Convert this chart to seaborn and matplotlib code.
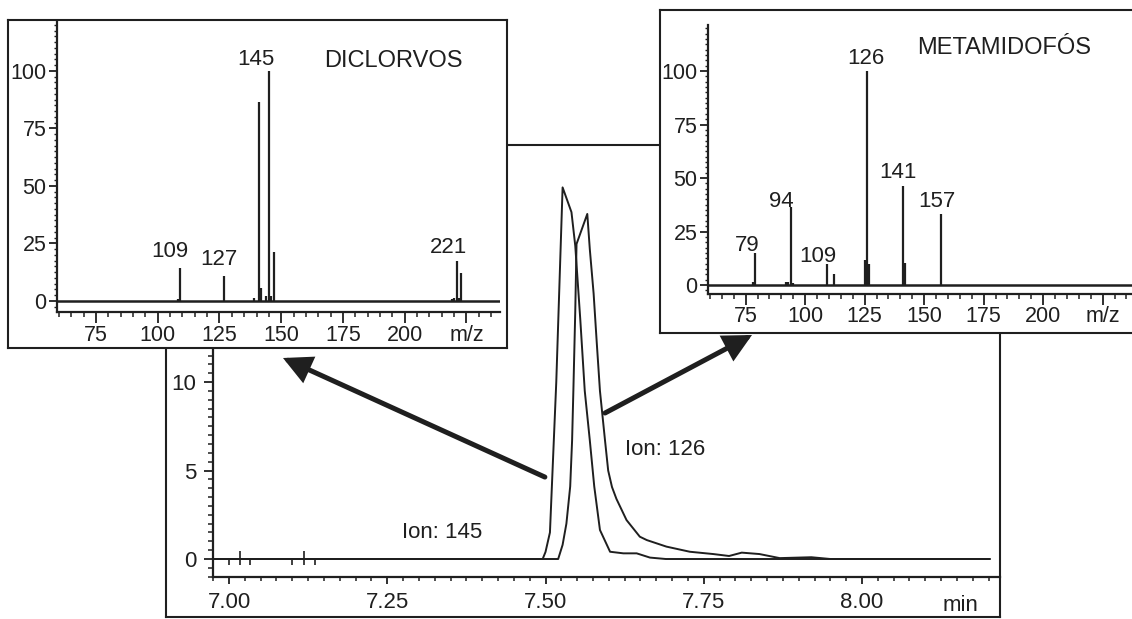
import matplotlib
matplotlib.use("Agg")
import matplotlib.pyplot as plt
import numpy as np
import pandas as pd
import seaborn as sns
from matplotlib.patches import ConnectionPatch
from matplotlib.ticker import FixedLocator, MultipleLocator

# ---------------- data ----------------
# extracted-ion chromatograms (retention time / min, abundance)
ion145_time = [6.975, 7.490, 7.4955, 7.500, 7.507, 7.517, 7.527, 7.541, 7.547, 7.555,
               7.562, 7.570, 7.577, 7.586, 7.602, 7.623, 7.644, 7.665, 7.690, 8.202]
ion145_abund = [0, 0, 0, 0.4, 1.5, 10.0, 21.0, 19.6, 17.7, 13.5,
                9.5, 6.7, 4.1, 1.64, 0.41, 0.32, 0.32, 0.08, 0, 0]

ion126_time = [6.975, 7.515, 7.520, 7.527, 7.533, 7.539, 7.542, 7.544, 7.547, 7.549,
               7.566, 7.570, 7.576, 7.581, 7.586, 7.594, 7.599, 7.605, 7.612, 7.628,
               7.649, 7.660, 7.691, 7.728, 7.765, 7.790, 7.810, 7.838, 7.870, 7.920,
               7.950, 8.202]
ion126_abund = [0, 0, 0, 0.8, 2.0, 4.1, 6.7, 9.5, 14.0, 17.8,
                19.5, 17.5, 15.0, 12.2, 9.5, 6.7, 5.0, 4.07, 3.4, 2.2,
                1.26, 1.07, 0.70, 0.41, 0.28, 0.17, 0.36, 0.28, 0.05, 0.1,
                0, 0]

# scan event marks on the baseline
event_long = [7.018, 7.118]
event_short = [7.000, 7.033, 7.099, 7.136]

time_ticks = [7.00, 7.25, 7.50, 7.75, 8.00]

# mass spectra (m/z, relative intensity %)
dicl_mz = [108, 109, 127, 139, 141, 142, 144, 145, 146, 147, 219, 220, 221, 222, 223]
dicl_int = [0.8, 14.3, 10.9, 1.5, 86.5, 5.5, 2.0, 100, 2.0, 21.2, 1.0, 1.5, 17.4, 1.5, 12.0]
dicl_labeled = [109, 127, 145, 221]

meta_mz = [78, 79, 92, 93, 94, 95, 109, 112, 125, 126, 127, 141, 142, 157]
meta_int = [1.5, 14.8, 1.5, 1.5, 36.6, 1.0, 9.8, 5.1, 11.7, 100, 9.8, 46.3, 10.3, 33.2]
meta_labeled = [79, 94, 109, 126, 141, 157]

mz_ticks = [75, 100, 125, 150, 175, 200, 225]
mz_tick_labels = ["75", "100", "125", "150", "175", "200", "m/z"]

# ---------------- style ----------------
sns.set_theme(style="white")
plt.rcParams["font.family"] = ["Liberation Sans", "DejaVu Sans"]
INK = "#1f1f1f"
W, H = 1132, 619

fig = plt.figure(figsize=(W / 100, H / 100), dpi=100)
fig.patch.set_facecolor("white")


def box(x0, y0, x1, y1):
    """Rectangle given by pixel edges (top-left origin) -> figure fraction."""
    return [x0 / W, 1 - y1 / H, (x1 - x0) / W, (y1 - y0) / H]


def framed(rect):
    fr = fig.add_axes(rect)
    fr.set_xticks([])
    fr.set_yticks([])
    fr.set_facecolor("white")
    for s in fr.spines.values():
        s.set_visible(True)
        s.set_linewidth(1.5)
        s.set_color(INK)
    return fr


def open_axes(a):
    a.set_facecolor("none")
    a.spines["top"].set_visible(False)
    a.spines["right"].set_visible(False)
    for s in ("left", "bottom"):
        a.spines[s].set_linewidth(1.6)
        a.spines[s].set_color(INK)


# ---------------- chromatogram ----------------
framed(box(166, 145, 1000, 617))
ax = fig.add_axes(box(213, 152, 1000, 577))
open_axes(ax)

chrom = pd.concat([
    pd.DataFrame({"time": ion145_time, "abund": ion145_abund, "ion": "145"}),
    pd.DataFrame({"time": ion126_time, "abund": ion126_abund, "ion": "126"}),
])
sns.lineplot(data=chrom, x="time", y="abund", hue="ion", palette=[INK, INK],
             estimator=None, sort=False, linewidth=1.4, legend=False, ax=ax)
ax.vlines(event_long, -0.35, 0.45, color=INK, linewidth=1.2)
ax.vlines(event_short, -0.35, 0.0, color=INK, linewidth=1.2)

ax.set_xlim(6.9747, 8.218)
ax.set_ylim(-1.017, 23.0)
ax.set_xlabel("")
ax.set_ylabel("")
ax.xaxis.set_major_locator(FixedLocator(time_ticks))
ax.set_xticklabels([f"{t:.2f}" for t in time_ticks])
ax.xaxis.set_minor_locator(MultipleLocator(0.025))
ax.yaxis.set_major_locator(MultipleLocator(5))
ax.yaxis.set_minor_locator(MultipleLocator(0.5))
ax.tick_params(axis="x", which="major", bottom=True, direction="out", length=5,
               width=1.3, pad=5.5, labelsize=16, colors=INK)
ax.tick_params(axis="x", which="minor", bottom=True, direction="out", length=2.8,
               width=1.1, colors=INK)
ax.tick_params(axis="y", which="major", left=True, direction="out", length=6.5,
               width=1.3, pad=5.5, labelsize=16, colors=INK)
ax.tick_params(axis="y", which="minor", left=True, direction="out", length=3.5,
               width=1.1, colors=INK)

ax.text(7.273, 1.19, "Ion: 145", ha="left", va="baseline", fontsize=16, color=INK)
ax.text(7.626, 5.88, "Ion: 126", ha="left", va="baseline", fontsize=16, color=INK)
ax.text(8.155, -2.95, "min", ha="center", va="baseline", fontsize=16, color=INK,
        clip_on=False)


# ---------------- mass spectra ----------------
def spectrum(frame_rect, ax_rect, mz, inten, labeled, offsets, name, name_xy, ylim):
    framed(frame_rect)
    sp = fig.add_axes(ax_rect)
    open_axes(sp)
    sp.set_facecolor("white")
    sp.axhline(0, color=INK, linewidth=1.8)
    sp.vlines(mz, 0, inten, color=INK, linewidth=1.6)
    sp.set_xlim(59.2, 238.6)
    sp.set_ylim(*ylim)
    sp.xaxis.set_major_locator(FixedLocator(mz_ticks))
    sp.set_xticklabels(mz_tick_labels)
    sp.xaxis.set_minor_locator(MultipleLocator(5))
    sp.yaxis.set_major_locator(FixedLocator([0, 25, 50, 75, 100]))
    sp.yaxis.set_minor_locator(MultipleLocator(2.5))
    sp.tick_params(axis="x", which="major", bottom=True, direction="out", length=8,
                   width=1.3, pad=1.0, labelsize=15.5, colors=INK)
    sp.tick_params(axis="x", which="minor", bottom=True, direction="out", length=3.5,
                   width=1.1, colors=INK)
    sp.tick_params(axis="y", which="major", left=True, direction="out", length=6,
                   width=1.3, pad=1.5, labelsize=15.5, colors=INK)
    sp.tick_params(axis="y", which="minor", left=True, direction="out", length=2.5,
                   width=1.0, colors=INK)
    for m, (dx, dy) in zip(labeled, offsets):
        h = inten[mz.index(m)]
        sp.annotate(str(m), xy=(m, h), xytext=(dx, dy), textcoords="offset points",
                    ha="center", va="baseline", fontsize=16, color=INK)
    sp.text(name_xy[0], name_xy[1], name, ha="center", va="baseline",
            fontsize=17, color=INK)
    return sp


spectrum(box(8, 20, 507, 348), box(57, 22, 500, 312),
         dicl_mz, dicl_int, dicl_labeled,
         [(-7, 8), (-4, 8), (-9, 4), (-6, 6)],
         "DICLORVOS", (195.6, 101.7), (-4.8, 121.3))

spectrum(box(660, 10, 1140, 333), box(708, 25, 1135, 294),
         meta_mz, meta_int, meta_labeled,
         [(-6, 1.5), (-6.5, 0), (-6, 1.5), (-0.5, 5), (-3.5, 6), (-3, 5)],
         "METAMIDOFÓS", (183.5, 108.0), (-4.2, 121.5))

# ---------------- arrows from peaks to spectra ----------------
for tail, tip in [((7.499, 4.63), (283, 358)), ((7.594, 8.25), (752, 335))]:
    arrow = ConnectionPatch(xyA=tail, coordsA=ax.transData,
                            xyB=(tip[0] / W, 1 - tip[1] / H), coordsB=fig.transFigure,
                            arrowstyle="-|>,head_length=0.75,head_width=0.38",
                            mutation_scale=20, linewidth=3.6, color=INK,
                            shrinkA=0, shrinkB=0, joinstyle="miter")
    arrow.set_zorder(10)
    fig.add_artist(arrow)

fig.savefig("out.png", dpi=100)
